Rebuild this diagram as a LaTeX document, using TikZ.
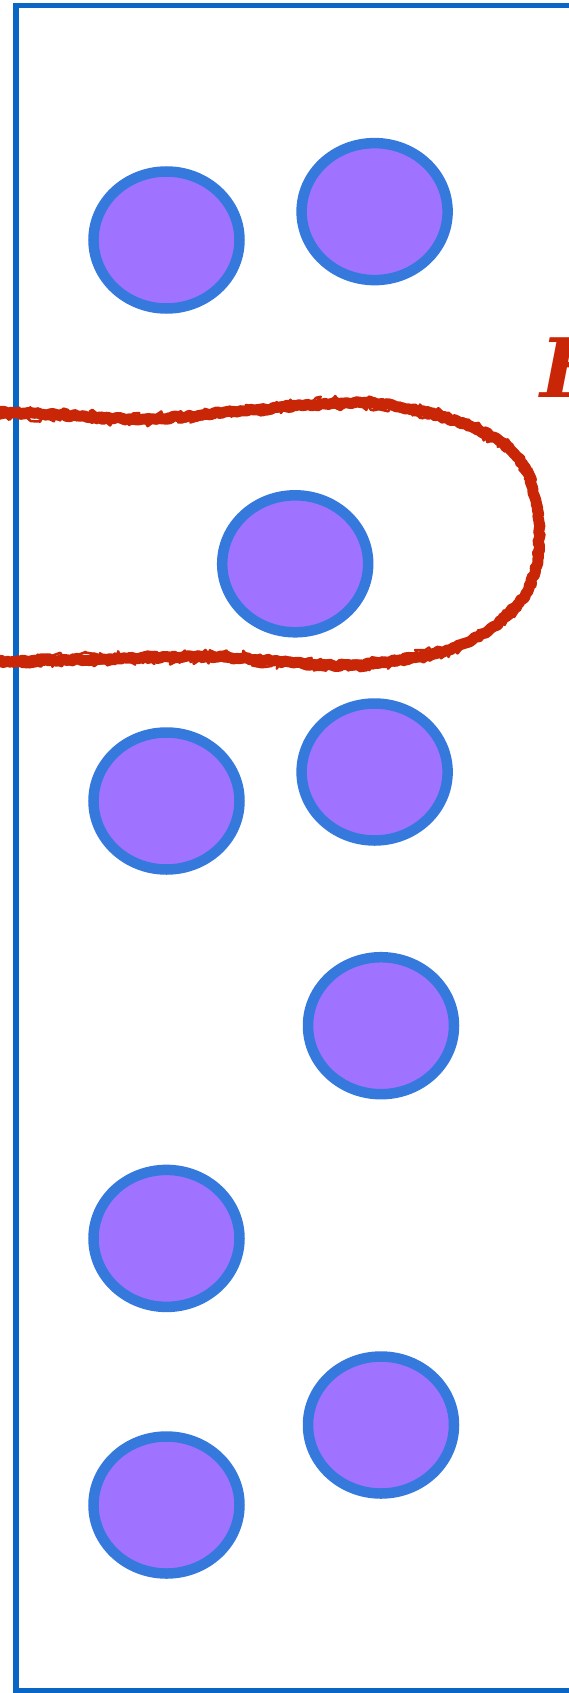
\documentclass[tikz,border=0pt]{standalone}
\usepackage{fontspec}
\newfontfamily\tagfont{DejaVu Serif}
\usetikzlibrary{shapes.geometric,decorations.pathmorphing}

\definecolor{framebl}{RGB}{10,102,196}
\definecolor{ringbl}{RGB}{53,121,221}
\definecolor{ballvi}{RGB}{159,114,255}
\definecolor{loopred}{RGB}{200,38,6}

\tikzset{
  ball/.style={ellipse, draw=ringbl, fill=ballvi, line width=10.5pt,
    minimum width=146pt, minimum height=137pt, inner sep=0pt},
  rough/.style={draw=loopred, line width=#1, line cap=round, line join=round,
    decorate, decoration={random steps, segment length=3pt, amplitude=1.3pt}},
}

\begin{document}
\begin{tikzpicture}[x=1pt,y=-1pt]
    \useasboundingbox (0,0) rectangle (569,1693);
    \pgfmathsetseed{7}
    % frame, open to the right
    \draw[framebl, line width=5.5pt] (620,5.5) -- (15.8,5.5) -- (15.8,1690.5) -- (620,1690.5);

    % balls
    \node[ball] (b1) at (166.5,240) {};
    \node[ball] (b2) at (374.6,211.6) {};
    \node[ball] (b3) at (295.2,563.8) {};
    \node[ball] (b4) at (166.5,801) {};
    \node[ball] (b5) at (374.6,772) {};
    \node[ball] (b6) at (381,1025.7) {};
    \node[ball] (b7) at (166.5,1238.4) {};
    \node[ball] (b8) at (381,1425) {};
    \node[ball] (b9) at (166.5,1505) {};

    % hand drawn loop round b3
    \def\loopline{plot[smooth, tension=0.6] coordinates {(-10,412) (60,415) (145,419)
      (254,410) (345,403) (399,407) (472,427) (522,463) (539,530) (526,593)
      (472,640) (399,660) (327,665) (218,657) (100,659) (-10,662)}}
    \draw[rough=11pt] \loopline;
    \draw[rough=2.5pt, decoration={amplitude=4.5pt, segment length=4pt}, yshift=3pt] \loopline;
    \draw[rough=2.5pt, decoration={amplitude=4.5pt, segment length=4pt}, yshift=-3pt] \loopline;
    \draw[rough=2pt, decoration={amplitude=3pt, segment length=5pt}, xshift=2.5pt] \loopline;

    % letter cut by the right edge
    \node[anchor=base west, inner sep=0pt, text=loopred,
      font=\tagfont\bfseries\itshape\fontsize{82}{82}\selectfont] (tag) at (540,397) {F};
\end{tikzpicture}
\end{document}
